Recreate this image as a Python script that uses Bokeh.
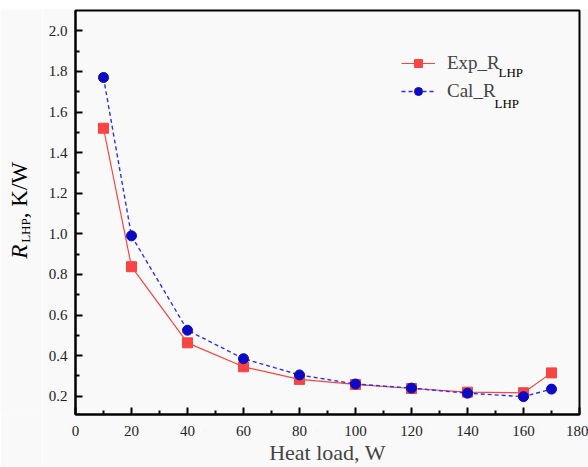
import math
from bokeh.plotting import figure
from bokeh.layouts import row
from bokeh.models import FixedTicker, PrintfTickFormatter, Legend, LegendItem, Label, Range1d
from bokeh.core.properties import value
from bokeh.embed import file_html
from bokeh.resources import INLINE

# ---- data ----
heat_load = [10, 20, 40, 60, 80, 100, 120, 140, 160, 170]
exp_r_lhp = [1.52, 0.838, 0.463, 0.345, 0.283, 0.258, 0.238, 0.22, 0.217, 0.315]
cal_r_lhp = [1.77, 0.99, 0.525, 0.385, 0.305, 0.26, 0.24, 0.215, 0.198, 0.235]
x_ticks = [0, 20, 40, 60, 80, 100, 120, 140, 160, 180]
x_minor = [10, 30, 50, 70, 90, 110, 130, 150, 170]
y_ticks = [0.2, 0.4, 0.6, 0.8, 1.0, 1.2, 1.4, 1.6, 1.8, 2.0]
y_minor = [0.3, 0.5, 0.7, 0.9, 1.1, 1.3, 1.5, 1.7, 1.9]
y_title_parts = ["R", "LHP", ", K/W"]

SERIF = "Liberation Serif"
BG = "#f9f9f9"
RED = "#f94444"
BLUE_M = "#0a0ac4"
BLUE_L = "#2f2ff0"

# ---- main plot ----
p = figure(width=546, height=459, output_backend="svg", toolbar_location=None,
           x_range=Range1d(0, 180), y_range=Range1d(0.11, 2.10),
           min_border_left=33, min_border_right=9, min_border_top=2, min_border_bottom=53,
           background_fill_color=BG, border_fill_color=BG)
p.grid.visible = False
p.outline_line_color = "black"
p.outline_line_width = 2

p.axis.axis_line_width = 2
p.axis.axis_line_color = "black"
p.axis.major_tick_in = 7
p.axis.major_tick_out = 0
p.axis.minor_tick_in = 4
p.axis.minor_tick_out = 0
p.axis.major_tick_line_width = 2
p.axis.minor_tick_line_width = 2
p.axis.major_label_text_font = SERIF
p.axis.major_label_text_font_size = "15px"
p.axis.major_label_text_color = "#222222"

p.xaxis.ticker = FixedTicker(ticks=x_ticks, minor_ticks=x_minor)
p.yaxis.ticker = FixedTicker(ticks=y_ticks, minor_ticks=y_minor)
p.yaxis.formatter = PrintfTickFormatter(format="%.1f")
p.xaxis.major_label_standoff = 11
p.yaxis.major_label_standoff = 8
p.xaxis.axis_label = "Heat load, W"
p.xaxis.axis_label_text_font = SERIF
p.xaxis.axis_label_text_font_size = "22px"
p.xaxis.axis_label_text_font_style = "normal"
p.xaxis.axis_label_standoff = 1

l1 = p.line(heat_load, exp_r_lhp, line_color=RED, line_width=1.2)
s1 = p.scatter(heat_load, exp_r_lhp, marker="square", size=10, fill_color=RED, line_color=RED)
l2 = p.line(heat_load, cal_r_lhp, line_color=BLUE_L, line_width=1.4, line_dash="4 3")
s2 = p.scatter(heat_load, cal_r_lhp, marker="circle", size=10, fill_color=BLUE_M, line_color=BLUE_M)

legend = Legend(items=[LegendItem(label="Exp_R", renderers=[l1, s1]),
                       LegendItem(label="Cal_R", renderers=[l2, s2])],
                location=(326, 312), padding=0, margin=0, spacing=6,
                glyph_width=34, glyph_height=20, label_height=20, label_standoff=12,
                label_text_font=SERIF, label_text_font_size="19px",
                border_line_color=None, background_fill_alpha=0)
p.add_layout(legend)

# legend subscripts (screen offsets from the frame's bottom-left corner)
FX, FY = 75, 414
for sub_x, sub_y in ((498, 72), (494, 103)):
    p.add_layout(Label(x=sub_x - FX, y=FY - sub_y, x_units="screen", y_units="screen",
                       text="LHP", text_font=SERIF, text_font_size="13px",
                       text_align="left", text_baseline="alphabetic", text_color="black"))

# ---- y-axis title strip ----
t = figure(width=42, height=459, output_backend="svg", toolbar_location=None,
           x_range=Range1d(0, 42), y_range=Range1d(467, 8),
           x_axis_location=None, y_axis_location=None,
           min_border_left=0, min_border_right=0, min_border_top=0, min_border_bottom=0,
           background_fill_color=BG, border_fill_color=BG)
t.grid.visible = False
t.outline_line_color = None
DX, DY = -10, 26
t.text(x=[29 + DX], y=[264 + DY], text=[y_title_parts[0]], angle=math.pi / 2,
       text_font=value(SERIF), text_font_size=value("23px"), text_font_style="italic",
       text_align="left", text_baseline="alphabetic", text_color="black")
t.text(x=[35 + DX], y=[246 + DY], text=[y_title_parts[1]], angle=math.pi / 2,
       text_font=value(SERIF), text_font_size=value("13px"),
       text_align="left", text_baseline="alphabetic", text_color="black")
t.text(x=[29 + DX], y=[218 + DY], text=[y_title_parts[2]], angle=math.pi / 2,
       text_font=value(SERIF), text_font_size=value("23px"),
       text_align="left", text_baseline="alphabetic", text_color="black")

layout = row(t, p)
layout.margin = (8, 0, 0, 0)
layout.spacing = 0

open("out.html", "w").write(file_html(layout, INLINE))
